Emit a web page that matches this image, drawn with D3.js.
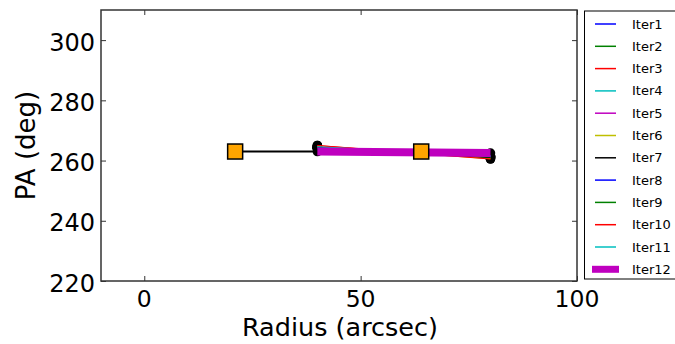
<!DOCTYPE html>
<html>
<head>
<meta charset="utf-8">
<script src="https://cdn.jsdelivr.net/npm/d3@7"></script>
<style>
  body { margin: 0; background: #fff; }
  svg { display: block; font-family: "DejaVu Sans", sans-serif; }
</style>
</head>
<body>
<svg id="chart" width="675" height="344"></svg>
<script>
// Radii of the two fitted rings (arcsec)
const ringRadii = [40, 80];

// Position angle per iteration at each ring (deg)
const iterNames = ["Iter1","Iter2","Iter3","Iter4","Iter5","Iter6","Iter7","Iter8","Iter9","Iter10","Iter11","Iter12"];
const iterPA = [
  [264.0, 261.5],
  [264.2, 261.2],
  [265.0, 260.8],
  [264.5, 261.0],
  [264.3, 261.3],
  [264.6, 260.6],
  [264.0, 261.0],
  [264.4, 261.4],
  [264.2, 261.2],
  [265.0, 260.5],
  [264.6, 261.6],
  [263.0, 262.5]
];
const iterColors = ["#0000ff","#008000","#ff0000","#00bfbf","#bf00bf","#bfbf00","#000000","#0000ff","#008000","#ff0000","#00bfbf","#bf00bf"];

// Initial-guess profile (black line) and its square markers
const initRadius = [21, 80];
const initPA = [263, 263];
const squareRadius = [21, 64];
const squarePA = [263, 263];

const xTicks = [0, 50, 100];
const yTicks = [220, 240, 260, 280, 300];

(function draw() {
  const svg = d3.select("#chart");
  const mLeft = 101, mRight = 577, mTop = 10, mBottom = 281;

  const x = d3.scaleLinear().domain([-10, 100]).range([mLeft, mRight]);
  const y = d3.scaleLinear().domain([220, 310]).range([mBottom, mTop]);

  const plot = svg.append("g");

  // marker circles at each ring for every iteration
  iterPA.forEach(vals => {
    vals.forEach((v, i) => {
      plot.append("circle")
        .attr("cx", x(ringRadii[i])).attr("cy", y(v))
        .attr("r", 4.8)
        .attr("fill", "#000");
    });
  });

  // initial-guess line
  const line = d3.line().x(d => x(d[0])).y(d => y(d[1]));
  plot.append("path")
    .attr("d", line(initRadius.map((r, i) => [r, initPA[i]])))
    .attr("fill", "none").attr("stroke", "#000").attr("stroke-width", 2.2);

  // iteration lines
  iterPA.forEach((vals, k) => {
    plot.append("path")
      .attr("d", line(ringRadii.map((r, i) => [r, vals[i]])))
      .attr("fill", "none")
      .attr("stroke", iterColors[k])
      .attr("stroke-width", k === iterPA.length - 1 ? 8 : 1);
  });

  // square markers
  squareRadius.forEach((r, i) => {
    plot.append("rect")
      .attr("x", x(r) - 7.5).attr("y", y(squarePA[i]) - 7.5)
      .attr("width", 15).attr("height", 15)
      .attr("fill", "#ffa500").attr("stroke", "#000").attr("stroke-width", 1.5);
  });

  // axes with inward ticks on all sides
  const axisColor = "#333";
  const ax = (g) => { g.select(".domain").remove(); g.selectAll("text").remove(); g.selectAll("line").attr("stroke", axisColor); };
  svg.append("g").attr("transform", `translate(0,${mBottom})`).call(d3.axisBottom(x).tickValues(xTicks).tickSizeInner(-5).tickSizeOuter(0)).call(ax);
  svg.append("g").attr("transform", `translate(0,${mTop})`).call(d3.axisTop(x).tickValues(xTicks).tickSizeInner(-5).tickSizeOuter(0)).call(ax);
  svg.append("g").attr("transform", `translate(${mLeft},0)`).call(d3.axisLeft(y).tickValues(yTicks).tickSizeInner(-5).tickSizeOuter(0)).call(ax);
  svg.append("g").attr("transform", `translate(${mRight},0)`).call(d3.axisRight(y).tickValues(yTicks).tickSizeInner(-5).tickSizeOuter(0)).call(ax);

  svg.append("rect").attr("x", mLeft).attr("y", mTop).attr("width", mRight - mLeft).attr("height", mBottom - mTop)
    .attr("fill", "none").attr("stroke", axisColor).attr("stroke-width", 1.5);

  // tick labels
  svg.selectAll(".xl").data(xTicks).join("text")
    .attr("x", d => x(d)).attr("y", 307).attr("text-anchor", "middle")
    .attr("font-size", 23.5).attr("fill", "#000").text(d => d);
  svg.selectAll(".yl").data(yTicks).join("text")
    .attr("x", 95).attr("y", d => y(d) + 10.5).attr("text-anchor", "end")
    .attr("font-size", 24).attr("fill", "#000").text(d => d);

  // axis titles
  svg.append("text").attr("x", (mLeft + mRight) / 2 + 1).attr("y", 336).attr("text-anchor", "middle")
    .attr("font-size", 25.5).attr("fill", "#000").text("Radius (arcsec)");
  svg.append("text").attr("transform", `translate(35,${(mTop + mBottom) / 2}) rotate(-90)`)
    .attr("text-anchor", "middle").attr("font-size", 26).attr("fill", "#000").text("PA (deg)");

  // legend
  const lg = svg.append("g");
  lg.append("rect").attr("x", 584.5).attr("y", 11).attr("width", 100).attr("height", 268)
    .attr("fill", "#fff").attr("stroke", "#000").attr("stroke-width", 1);
  iterNames.forEach((name, k) => {
    const cy = 24 + k * 22.3;
    const last = k === iterNames.length - 1;
    lg.append("line").attr("x1", last ? 592 : 595).attr("x2", last ? 619 : 616)
      .attr("y1", cy).attr("y2", cy)
      .attr("stroke", iterColors[k]).attr("stroke-width", last ? 7 : 1.5);
    lg.append("text").attr("x", 632).attr("y", cy + 4.5).attr("font-size", 13)
      .attr("fill", "#000").text(name);
  });
})();
</script>
</body>
</html>
